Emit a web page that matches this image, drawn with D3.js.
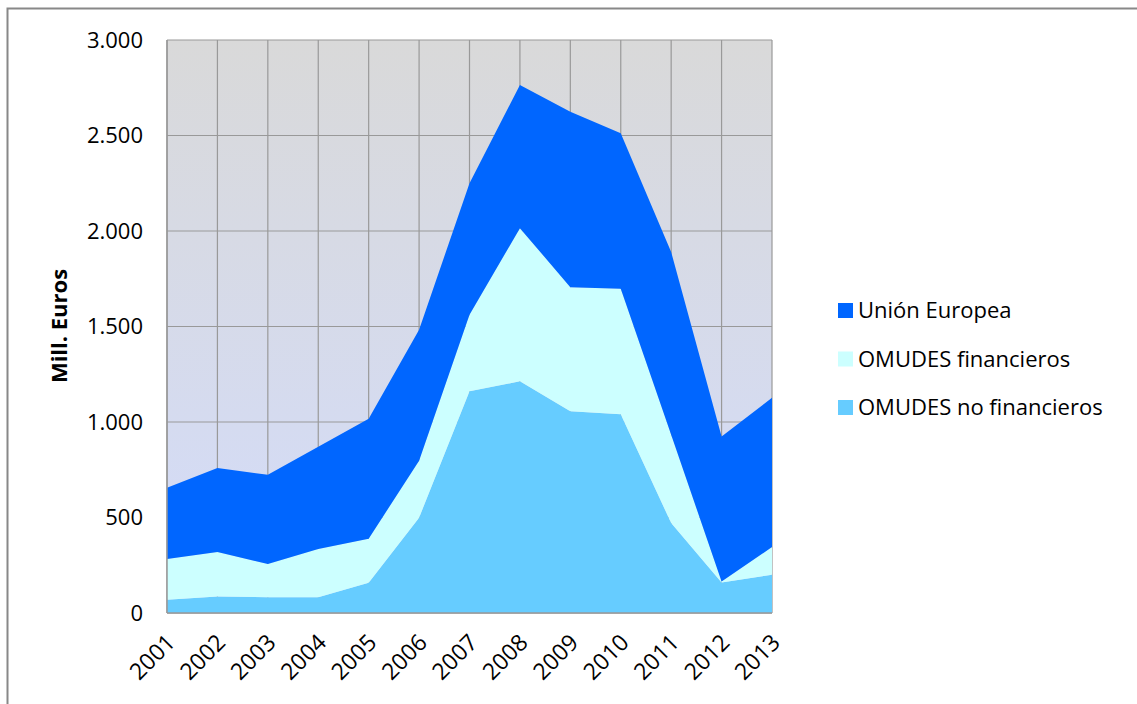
<!DOCTYPE html>
<html lang="es">
<head>
<meta charset="utf-8">
<title>Mill. Euros stacked area</title>
<script src="https://cdn.jsdelivr.net/npm/d3@7"></script>
<style>
  body { margin: 0; background: #fff; }
  text { font-family: "Open Sans", "Noto Sans", sans-serif; fill: #000; }
</style>
</head>
<body>
<script>
// data
var years = ["2001","2002","2003","2004","2005","2006","2007","2008","2009","2010","2011","2012","2013"];
var noFinancieros = [70, 87, 82, 82, 159, 499, 1161, 1213, 1056, 1040, 471, 160, 200];
var financieros   = [213, 232, 174, 253, 230, 298, 400, 802, 650, 657, 462, 5, 145];
var unionEuropea  = [373, 440, 468, 535, 628, 686, 689, 750, 919, 815, 957, 759, 782];
var yTicks = [0, 500, 1000, 1500, 2000, 2500, 3000];

var seriesNames = ["OMUDES no financieros", "OMUDES financieros", "Unión Europea"];
var colors = ["#66ccff", "#ccffff", "#0066ff"];

var W = 1137, H = 704;
// plot box
var pLeft = 167, pRight = 772, pTop = 40, pBottom = 613;

var svg = d3.select("body").append("svg")
  .attr("width", W).attr("height", H);

// outer frame (continues past right/bottom edge)
svg.append("rect")
  .attr("x", 7.5).attr("y", 8.5)
  .attr("width", 1200).attr("height", 800)
  .attr("fill", "none").attr("stroke", "#888").attr("stroke-width", 2);

var x = d3.scalePoint().domain(years).range([pLeft, pRight]);
var y = d3.scaleLinear().domain([0, 3000]).range([pBottom, pTop]);

// plot background gradient
var defs = svg.append("defs");
var grad = defs.append("linearGradient").attr("id", "bg")
  .attr("x1", 0).attr("y1", 0).attr("x2", 0).attr("y2", 1);
grad.append("stop").attr("offset", "0%").attr("stop-color", "#d9d9d9");
grad.append("stop").attr("offset", "100%").attr("stop-color", "#d3dcfb");

svg.append("rect")
  .attr("x", pLeft).attr("y", pTop)
  .attr("width", pRight - pLeft).attr("height", pBottom - pTop)
  .attr("fill", "url(#bg)");

// gridlines
svg.append("g").selectAll("line").data(yTicks).enter().append("line")
  .attr("x1", pLeft).attr("x2", pRight)
  .attr("y1", function(d){ return y(d); }).attr("y2", function(d){ return y(d); })
  .attr("stroke", "#999").attr("stroke-width", 1.2);
svg.append("g").selectAll("line").data(years).enter().append("line")
  .attr("x1", function(d){ return x(d); }).attr("x2", function(d){ return x(d); })
  .attr("y1", pTop).attr("y2", pBottom)
  .attr("stroke", "#999").attr("stroke-width", 1.2);

// stacked areas
var table = years.map(function(yr, i){
  return { year: yr, a: noFinancieros[i], b: financieros[i], c: unionEuropea[i] };
});
var layers = d3.stack().keys(["a", "b", "c"])(table);

var area = d3.area()
  .x(function(d){ return x(d.data.year); })
  .y0(function(d){ return y(d[0]); })
  .y1(function(d){ return y(d[1]); });

svg.append("g").selectAll("path").data(layers).enter().append("path")
  .attr("d", area)
  .attr("fill", function(d, i){ return colors[i]; });

// plot border (left + bottom axis lines)
svg.append("line").attr("x1", pLeft).attr("x2", pLeft).attr("y1", pTop).attr("y2", pBottom)
  .attr("stroke", "#999").attr("stroke-width", 1.5);
svg.append("line").attr("x1", pLeft).attr("x2", pRight).attr("y1", pBottom).attr("y2", pBottom)
  .attr("stroke", "#999").attr("stroke-width", 1.5);

// y axis
var fmt = function(d){ return d3.format(",")(d).replace(/,/g, "."); };
var yAxis = svg.append("g")
  .attr("transform", "translate(" + pLeft + ",0)")
  .call(d3.axisLeft(y).tickValues(yTicks).tickSize(0).tickPadding(24).tickFormat(fmt));
yAxis.select(".domain").remove();
yAxis.selectAll("text").style("font-size", "22px").attr("fill", "#000")
  .style("font-family", "'Open Sans', sans-serif");

// x axis
var xAxis = svg.append("g")
  .attr("transform", "translate(0," + pBottom + ")")
  .call(d3.axisBottom(x).tickSize(0).tickFormat(function(d){ return d; }));
xAxis.select(".domain").remove();
xAxis.selectAll("text")
  .style("font-size", "23px").attr("fill", "#000")
  .style("font-family", "'Open Sans', sans-serif")
  .attr("text-anchor", "end")
  .attr("dy", null)
  .attr("y", 0)
  .attr("transform", "translate(9,31) rotate(-45)");

// y title
svg.append("text")
  .attr("transform", "translate(67,326) rotate(-90)")
  .attr("text-anchor", "middle")
  .style("font-size", "22px").style("font-weight", "bold")
  .text("Mill. Euros");

// legend
var legendItems = [2, 1, 0];
var lg = svg.append("g").selectAll("g").data(legendItems).enter().append("g")
  .attr("transform", function(d, i){ return "translate(838," + (303 + i * 48.5) + ")"; });
lg.append("rect").attr("width", 15).attr("height", 15)
  .attr("fill", function(d){ return colors[d]; });
lg.append("text").attr("x", 20).attr("y", 15)
  .style("font-size", "22px")
  .text(function(d){ return seriesNames[d]; });
</script>
</body>
</html>
